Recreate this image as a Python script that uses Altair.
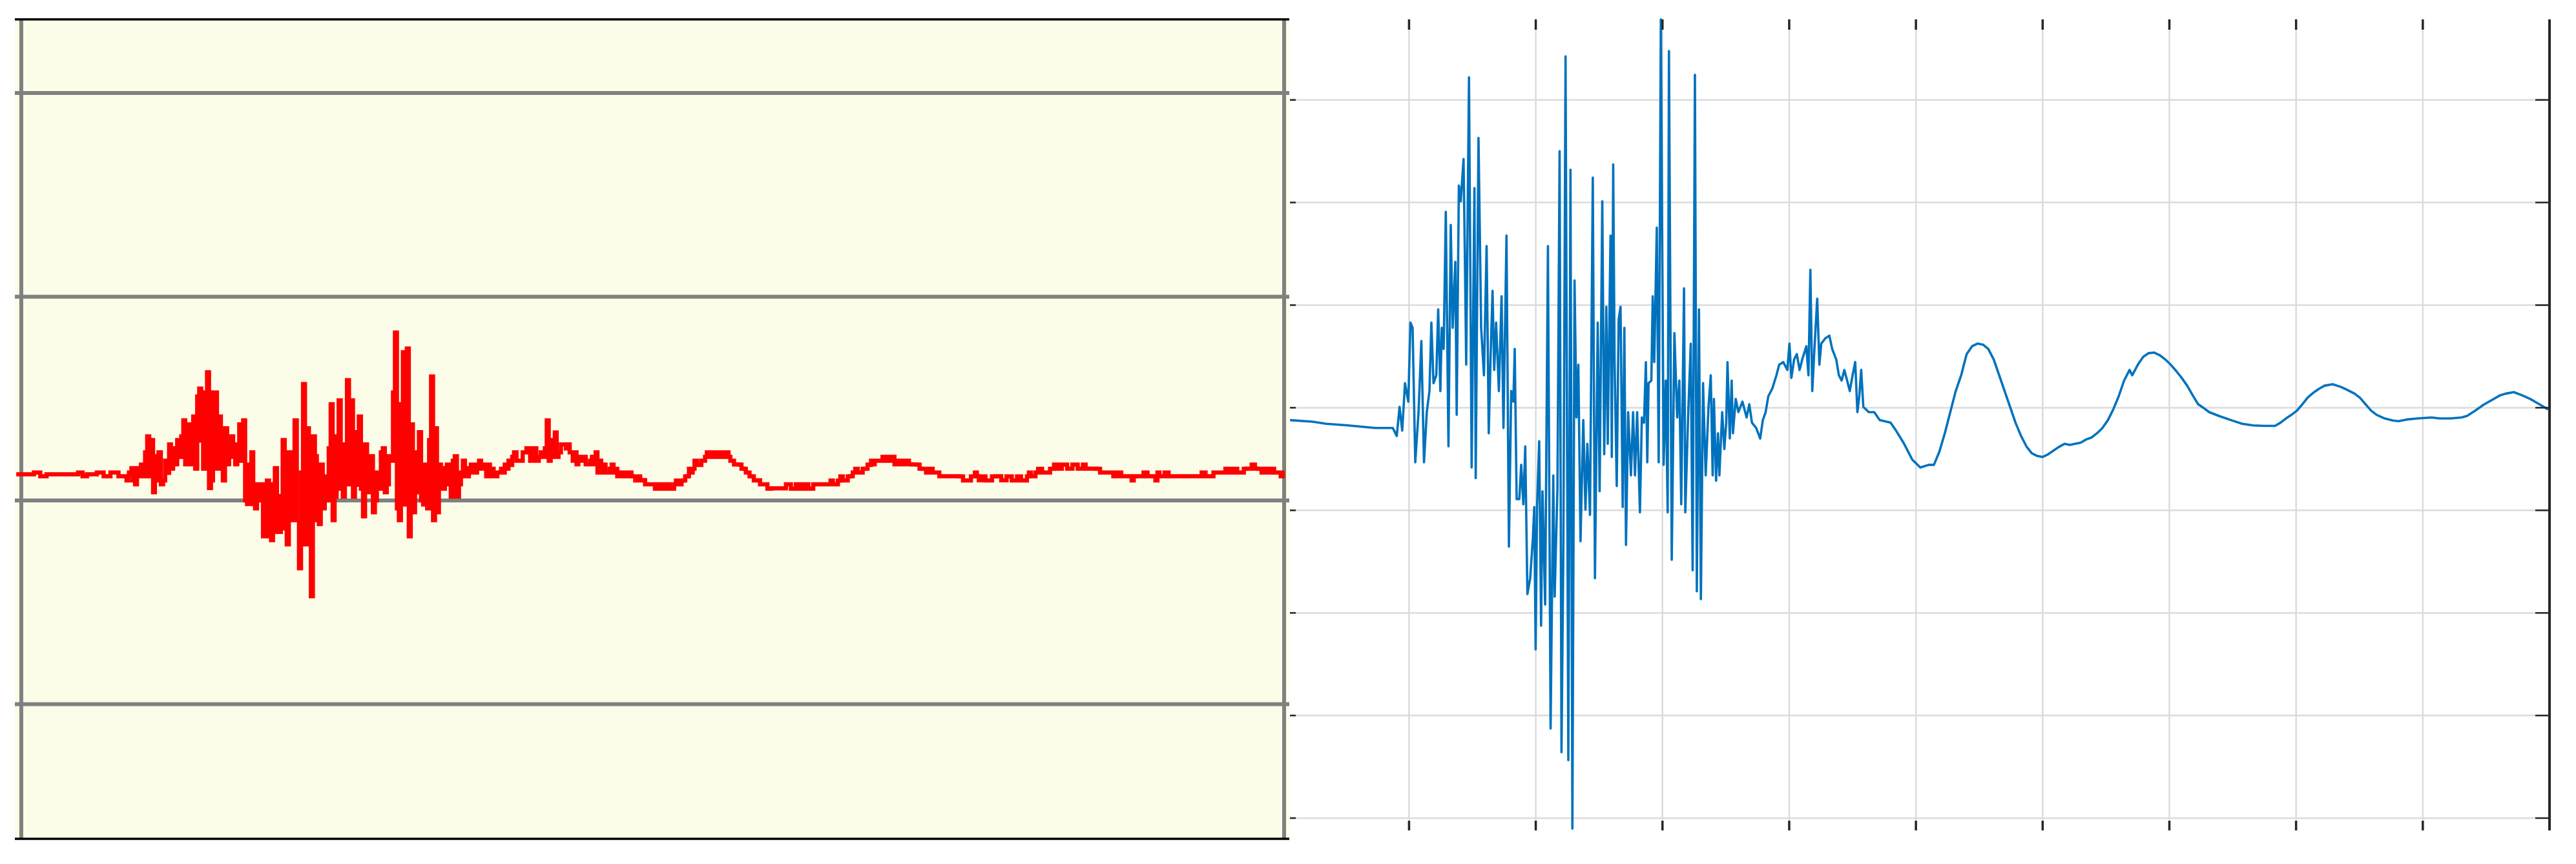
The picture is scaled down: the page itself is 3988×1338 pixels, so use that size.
import altair as alt
import pandas as pd

# ---------------- left panel (red trace) ----------------
red_x = [-0.04, 0.10, 0.20, 0.35, 0.45, 0.52,
         0.598, 0.706, 0.833, 0.872, 0.901, 0.931, 0.964, 0.997, 1.029, 1.058, 1.087, 1.123, 1.156, 1.185,
         1.219, 1.250, 1.283, 1.313, 1.346, 1.377, 1.409, 1.440, 1.471, 1.502, 1.534, 1.565, 1.596, 1.630,
         1.661, 1.694, 1.726, 1.757, 1.788, 1.822, 1.851, 1.882, 1.914, 1.945, 1.978, 2.008, 2.041, 2.070,
         2.102, 2.135, 2.164, 2.199, 2.231, 2.262, 2.293, 2.325, 2.356, 2.387, 2.419, 2.450, 2.481, 2.513,
         2.546, 2.579, 2.611, 2.642, 2.673, 2.706, 2.738, 2.769, 2.800, 2.832, 2.863, 2.894, 2.928, 2.959,
         2.990, 3.022, 3.053, 3.084, 3.118, 3.149, 3.182, 3.214, 3.245, 3.276, 3.307, 3.339, 3.370, 3.401,
         3.433, 3.466, 3.497, 3.529, 3.560, 3.593, 3.625, 3.656]
red_hi = [0.128, 0.137, 0.128, 0.128, 0.137, 0.128,
          0.137, 0.137, 0.137, 0.158, 0.158, 0.176, 0.236, 0.314, 0.296, 0.217, 0.236, 0.195, 0.275, 0.256,
          0.296, 0.314, 0.393, 0.373, 0.412, 0.510, 0.549, 0.530, 0.629, 0.530, 0.530, 0.412, 0.354, 0.314,
          0.314, 0.275, 0.373, 0.393, 0.176, 0.236, 0.079, 0.079, 0.079, 0.097, 0.079, 0.158, 0.021, 0.296,
          0.236, 0.118, 0.393, 0.137, 0.571, 0.354, 0.314, 0.217, 0.176, 0.118, 0.256, 0.472, 0.314, 0.491,
          0.275, 0.590, 0.491, 0.335, 0.412, 0.275, 0.176, 0.217, 0.137, 0.236, 0.256, 0.217, 0.530, 0.824,
          0.472, 0.727, 0.745, 0.373, 0.236, 0.335, 0.176, 0.296, 0.608, 0.354, 0.176, 0.158, 0.176, 0.195,
          0.217, 0.137, 0.195, 0.158, 0.176, 0.176, 0.195, 0.158]
red_lo = [0.128, 0.119, 0.128, 0.128, 0.119, 0.128,
          0.119, 0.119, 0.098, 0.098, 0.079, 0.119, 0.119, 0.119, 0.040, 0.098, 0.079, 0.098, 0.135, 0.156,
          0.177, 0.214, 0.177, 0.177, 0.177, 0.156, 0.294, 0.156, 0.061, 0.098, 0.156, 0.177, 0.098, 0.177,
          0.214, 0.177, 0.195, 0.000, -0.018, -0.018, -0.039, 0.000, -0.176, -0.176, -0.195, -0.155, -0.155, -0.137,
          -0.216, -0.097, -0.097, -0.333, -0.216, -0.216, -0.470, -0.097, -0.116, -0.039, 0.000, -0.097, 0.019, 0.058,
          0.019, 0.079, 0.019, 0.077, 0.058, -0.078, 0.040, -0.058, 0.000, 0.058, 0.040, 0.079, 0.195, -0.039,
          -0.097, -0.020, -0.176, -0.058, 0.040, 0.000, -0.020, -0.039, -0.097, -0.058, 0.058, 0.058, 0.079, 0.019,
          0.019, 0.079, 0.119, 0.119, 0.137, 0.137, 0.156, 0.156]

red_x2 = [3.667, 3.696, 3.726, 3.755, 3.784, 3.814, 3.843, 3.873, 3.902, 3.941, 4.000, 4.059, 4.098, 4.131,
          4.161, 4.192, 4.225, 4.254, 4.293, 4.333, 4.352, 4.382, 4.411, 4.450, 4.489, 4.519, 4.548, 4.577,
          4.607, 4.646, 4.675, 4.705, 4.734, 4.763, 4.822, 4.842, 4.881, 4.920, 4.959, 4.998, 5.037, 5.076,
          5.116, 5.155, 5.184, 5.214, 5.243, 5.272, 5.302, 5.331, 5.370, 5.400, 5.429, 5.468, 5.527, 5.586,
          5.615, 5.644, 5.683, 5.723, 5.752, 5.781, 5.820, 5.850, 5.879, 5.938, 5.997, 6.055, 6.134, 6.173,
          6.212, 6.252, 6.290, 6.369, 6.408, 6.447, 6.486, 6.525, 6.564, 6.604, 6.643, 6.682, 6.721]
red_hi2 = [0.176, 0.176, 0.155, 0.137, 0.155, 0.176, 0.195, 0.214, 0.236, 0.236, 0.256, 0.256, 0.236, 0.256,
           0.393, 0.296, 0.333, 0.275, 0.275, 0.275, 0.236, 0.236, 0.214, 0.214, 0.195, 0.214, 0.236, 0.195,
           0.176, 0.155, 0.176, 0.155, 0.137, 0.137, 0.137, 0.118, 0.118, 0.100, 0.079, 0.079, 0.079, 0.079,
           0.079, 0.079, 0.097, 0.097, 0.118, 0.155, 0.155, 0.195, 0.195, 0.214, 0.236, 0.236, 0.236, 0.236,
           0.195, 0.176, 0.176, 0.155, 0.137, 0.118, 0.100, 0.079, 0.079, 0.060, 0.060, 0.079, 0.079, 0.079,
           0.079, 0.079, 0.079, 0.079, 0.097, 0.097, 0.118, 0.118, 0.137, 0.155, 0.155, 0.176, 0.195]
red_lo2 = [0.119, 0.119, 0.119, 0.119, 0.137, 0.137, 0.156, 0.174, 0.195, 0.195, 0.195, 0.195, 0.214, 0.214,
           0.195, 0.214, 0.214, 0.236, 0.255, 0.236, 0.195, 0.177, 0.195, 0.177, 0.177, 0.177, 0.137, 0.137,
           0.137, 0.137, 0.137, 0.119, 0.119, 0.119, 0.119, 0.098, 0.098, 0.079, 0.079, 0.058, 0.058, 0.058,
           0.058, 0.058, 0.079, 0.079, 0.098, 0.119, 0.137, 0.174, 0.174, 0.195, 0.214, 0.214, 0.214, 0.214,
           0.195, 0.177, 0.156, 0.137, 0.119, 0.098, 0.098, 0.079, 0.058, 0.058, 0.058, 0.058, 0.058, 0.058,
           0.058, 0.058, 0.079, 0.079, 0.079, 0.079, 0.098, 0.098, 0.119, 0.137, 0.137, 0.156, 0.174]

red_x3 = [6.737, 6.779, 6.820, 6.883, 6.946, 7.008, 7.050, 7.092, 7.134, 7.196, 7.238, 7.301, 7.363, 7.426,
          7.489, 7.551, 7.583, 7.614, 7.656, 7.718, 7.760, 7.802, 7.885, 7.948, 7.979, 8.010, 8.052, 8.115,
          8.178, 8.240, 8.324, 8.407, 8.449, 8.511, 8.574, 8.616, 8.679, 8.741, 8.793, 8.825, 8.887, 8.950,
          8.981, 9.013, 9.054, 9.117, 9.200, 9.284, 9.347, 9.409, 9.472, 9.535, 9.597, 9.660, 9.702, 9.743,
          9.795, 9.848, 9.910, 9.931, 9.973, 10.004]
red_hi3 = [0.195, 0.195, 0.214, 0.214, 0.195, 0.195, 0.176, 0.176, 0.155, 0.155, 0.137, 0.118, 0.118, 0.118,
           0.118, 0.137, 0.100, 0.118, 0.118, 0.118, 0.100, 0.118, 0.118, 0.118, 0.137, 0.137, 0.155, 0.155,
           0.176, 0.176, 0.176, 0.176, 0.155, 0.155, 0.137, 0.137, 0.137, 0.118, 0.118, 0.118, 0.137, 0.118,
           0.137, 0.118, 0.137, 0.118, 0.118, 0.118, 0.137, 0.137, 0.137, 0.155, 0.155, 0.155, 0.155, 0.176,
           0.155, 0.155, 0.155, 0.137, 0.137, 0.137]
red_lo3 = [0.177, 0.195, 0.195, 0.177, 0.177, 0.177, 0.177, 0.156, 0.137, 0.137, 0.119, 0.119, 0.119, 0.098,
           0.098, 0.119, 0.098, 0.098, 0.098, 0.119, 0.098, 0.098, 0.098, 0.098, 0.119, 0.119, 0.137, 0.137,
           0.156, 0.156, 0.156, 0.156, 0.156, 0.137, 0.137, 0.119, 0.119, 0.119, 0.098, 0.119, 0.119, 0.119,
           0.098, 0.119, 0.119, 0.119, 0.119, 0.119, 0.119, 0.119, 0.137, 0.137, 0.137, 0.137, 0.156, 0.156,
           0.137, 0.137, 0.137, 0.137, 0.119, 0.137]

left_grid_y = [-1, 0, 1, 2]
left_grid_x = [0, 10]
left_edges_y = [-1.661, 2.361]

# ---------------- right panel (blue trace) ----------------
blue_x_pre = [0.061, 0.237, 0.345, 0.517, 0.731, 0.871, 0.903, 0.925, 0.946, 0.968, 0.994]
blue_y_pre = [3.879, 3.864, 3.844, 3.828, 3.803, 3.803, 3.725, 4.008, 3.777, 4.239, 4.059]

blue_x_burst = [1.011, 1.028, 1.049, 1.075, 1.097, 1.118, 1.140, 1.161, 1.176, 1.193, 1.215, 1.230, 1.247,
                1.258, 1.273, 1.290, 1.311, 1.329, 1.344, 1.365, 1.376, 1.393, 1.408, 1.430, 1.440, 1.451,
                1.473, 1.494, 1.516, 1.526, 1.548, 1.569, 1.591, 1.612, 1.629, 1.644, 1.659, 1.672, 1.687,
                1.709, 1.730, 1.745, 1.769, 1.788, 1.806, 1.823, 1.834, 1.849, 1.870, 1.885, 1.902, 1.917,
                1.934, 1.956, 1.977, 1.988, 1.999, 2.010, 2.027, 2.042, 2.053, 2.074, 2.096, 2.117, 2.138,
                2.149, 2.171, 2.188, 2.203, 2.218, 2.235, 2.257, 2.274, 2.289, 2.306, 2.321, 2.336, 2.353,
                2.375, 2.392, 2.407, 2.428, 2.450, 2.467, 2.489, 2.504, 2.525, 2.540, 2.557, 2.568, 2.590,
                2.600, 2.611, 2.622, 2.639, 2.654, 2.669, 2.686, 2.699, 2.712, 2.729, 2.751, 2.768, 2.783,
                2.800, 2.822, 2.837, 2.854, 2.869, 2.880, 2.890, 2.912, 2.923, 2.935, 2.955, 2.970, 2.987,
                3.009, 3.026, 3.041, 3.051, 3.073, 3.094, 3.116, 3.133, 3.148, 3.170, 3.180, 3.202, 3.223,
                3.238, 3.256, 3.271, 3.288, 3.303, 3.320, 3.341, 3.363]
blue_y_burst = [4.830, 4.779, 3.468, 3.957, 4.650, 3.468, 3.957, 4.162, 4.830, 4.239, 4.316, 4.959, 4.162,
                4.779, 4.573, 5.909, 3.623, 5.781, 4.779, 5.421, 3.931, 6.166, 6.012, 6.423, 5.524, 4.419,
                7.220, 3.417, 6.141, 3.314, 6.629, 4.779, 4.316, 5.575, 3.751, 4.522, 5.139, 4.368, 4.830,
                4.162, 5.087, 3.803, 5.678, 2.646, 4.162, 4.059, 4.573, 3.109, 3.109, 3.443, 3.058, 3.623,
                2.184, 2.338, 2.724, 3.032, 1.644, 3.032, 3.674, 1.876, 3.186, 2.081, 5.575, 0.873, 3.340,
                2.158, 3.211, 6.500, 0.642, 2.672, 7.425, 0.565, 6.320, -0.103, 5.241, 3.905, 4.419, 2.698,
                3.879, 3.006, 3.648, 2.955, 6.243, 2.338, 4.830, 3.186, 6.012, 3.546, 4.984, 3.648, 5.678,
                3.520, 6.372, 4.445, 3.237, 4.856, 4.984, 3.032, 4.779, 2.662, 3.957, 3.340, 3.957, 3.340,
                3.957, 2.980, 3.905, 3.854, 4.445, 3.468, 4.239, 4.265, 5.087, 4.445, 5.755, 3.468, 7.785,
                3.443, 4.265, 2.980, 7.477, 2.518, 4.727, 3.905, 4.265, 3.058, 5.164, 2.980, 3.905, 4.624,
                2.415, 7.245, 2.210, 4.959, 2.133, 4.239, 3.340, 4.008]

blue_x_tail = [3.381, 3.396, 3.406, 3.423, 3.438, 3.449, 3.471, 3.488, 3.503, 3.513, 3.531, 3.546, 3.556,
               3.578, 3.599, 3.631, 3.664, 3.685, 3.706, 3.739, 3.771, 3.792, 3.814, 3.835, 3.867, 3.899,
               3.921, 3.953, 3.985, 4.002, 4.017, 4.039, 4.060, 4.082, 4.103, 4.135, 4.152, 4.167, 4.182,
               4.199, 4.221, 4.238, 4.253, 4.285, 4.317, 4.339, 4.371, 4.392, 4.414, 4.435, 4.457, 4.478,
               4.500, 4.521, 4.538, 4.553, 4.568, 4.585, 4.628, 4.671, 4.714]
blue_y_tail = [4.316, 3.340, 4.085, 3.289, 3.751, 3.340, 3.957, 3.597, 3.854, 4.445, 3.700, 4.265, 3.751,
               4.085, 3.957, 4.059, 3.905, 4.034, 3.854, 3.803, 3.700, 3.879, 3.957, 4.111, 4.188, 4.316,
               4.419, 4.445, 4.368, 4.625, 4.291, 4.471, 4.522, 4.368, 4.471, 4.599, 4.316, 5.344, 4.162,
               4.573, 5.062, 4.419, 4.625, 4.676, 4.702, 4.573, 4.471, 4.316, 4.265, 4.368, 4.265, 4.162,
               4.316, 4.445, 3.957, 4.111, 4.368, 4.008, 3.957, 3.957, 3.879]

blue_x_coda = [4.800, 4.843, 4.907, 4.971, 5.035, 5.100, 5.142, 5.185, 5.228, 5.271, 5.314, 5.357, 5.400,
               5.443, 5.486, 5.529, 5.571, 5.614, 5.657, 5.700, 5.743, 5.786, 5.829, 5.872, 5.914, 5.957,
               6.000, 6.043, 6.086, 6.129, 6.172, 6.215, 6.257, 6.300, 6.343, 6.386, 6.429, 6.472, 6.515,
               6.557, 6.600, 6.643, 6.686, 6.707, 6.751, 6.794, 6.837, 6.881, 6.924, 6.967, 7.011, 7.054,
               7.097, 7.141, 7.184, 7.227, 7.270, 7.314, 7.400, 7.487, 7.574, 7.660, 7.747, 7.834, 7.877,
               7.920, 7.964, 8.007, 8.050, 8.093, 8.137, 8.180, 8.223, 8.288, 8.353, 8.397, 8.462, 8.505,
               8.548, 8.592, 8.635, 8.700, 8.765, 8.808, 8.873, 8.960, 9.068, 9.133, 9.220, 9.306, 9.350,
               9.415, 9.480, 9.545, 9.610, 9.653, 9.718, 9.783, 9.848, 9.913, 9.989]
blue_y_coda = [3.854, 3.777, 3.648, 3.494, 3.417, 3.443, 3.443, 3.571, 3.751, 3.957, 4.162, 4.316, 4.522,
               4.599, 4.625, 4.615, 4.573, 4.471, 4.316, 4.162, 4.008, 3.854, 3.726, 3.623, 3.556, 3.530,
               3.520, 3.546, 3.582, 3.618, 3.648, 3.638, 3.648, 3.659, 3.690, 3.710, 3.751, 3.803, 3.879,
               3.983, 4.111, 4.265, 4.368, 4.316, 4.419, 4.496, 4.532, 4.537, 4.512, 4.471, 4.419, 4.358,
               4.291, 4.214, 4.121, 4.034, 3.998, 3.957, 3.916, 3.879, 3.844, 3.828, 3.823, 3.823, 3.854,
               3.895, 3.931, 3.972, 4.034, 4.101, 4.147, 4.183, 4.214, 4.229, 4.203, 4.178, 4.137, 4.096,
               4.034, 3.972, 3.931, 3.895, 3.875, 3.869, 3.885, 3.895, 3.905, 3.895, 3.895, 3.905, 3.921,
               3.972, 4.029, 4.075, 4.121, 4.137, 4.152, 4.121, 4.085, 4.039, 3.983]

right_ticks_x = [1, 2, 3, 4, 5, 6, 7, 8, 9, 10]
right_grid_x = [1, 2, 3, 4, 5, 6, 7, 8, 9]
right_ticks_y = [0, 1, 2, 3, 4, 5, 6, 7]

# ---------------- build tables ----------------
def step_table(xs, his, los):
    rows = []
    n = len(xs)
    for i in range(n):
        x0 = xs[i]
        x1 = xs[i + 1] if i + 1 < n else x0
        hi, lo = his[i], los[i]
        if abs(hi - lo) < 0.005 or x1 == x0:
            rows.append((x0, (hi + lo) / 2))
            continue
        nxt = (his[i + 1] + los[i + 1]) / 2 if i + 1 < n else (hi + lo) / 2
        first, second = (lo, hi) if nxt > (hi + lo) / 2 else (hi, lo)
        rows.append((x0, first))
        rows.append(((x0 + x1) / 2, second))
    return rows

rx = red_x + red_x2 + red_x3
rh = red_hi + red_hi2 + red_hi3
rl = red_lo + red_lo2 + red_lo3
red_df = pd.DataFrame(step_table(rx, rh, rl), columns=["t", "v"])
red_df["o"] = range(len(red_df))

blue_df = pd.DataFrame({
    "t": blue_x_pre + blue_x_burst + blue_x_tail + blue_x_coda,
    "v": blue_y_pre + blue_y_burst + blue_y_tail + blue_y_coda,
})
blue_df["o"] = range(len(blue_df))

LW, LH = 1973, 1269
RW, RH = 1950, 1256

LX = alt.Scale(domain=[-0.051, 10.041], nice=False, zero=False)
LY = alt.Scale(domain=[-1.661, 2.361], nice=False, zero=False)
RX = alt.Scale(domain=[0.06, 10.0], nice=False, zero=False)
RY = alt.Scale(domain=[-0.12, 7.785], nice=False, zero=False)

# left panel layers
l_hgrid = alt.Chart(pd.DataFrame({"g": left_grid_y})).mark_rule(
    color="#808080", strokeWidth=6).encode(y=alt.Y("g:Q", scale=LY, axis=None))
l_vgrid = alt.Chart(pd.DataFrame({"g": left_grid_x})).mark_rule(
    color="#808080", strokeWidth=6).encode(x=alt.X("g:Q", scale=LX, axis=None))
l_edges = alt.Chart(pd.DataFrame({"b": left_edges_y})).mark_rule(
    color="#000000", strokeWidth=3.5).encode(y=alt.Y("b:Q", scale=LY, axis=None))
l_red = alt.Chart(red_df).mark_line(
    color="#ff0000", strokeWidth=6.5, interpolate="step-after", strokeJoin="miter").encode(
    x=alt.X("t:Q", scale=LX, axis=None),
    y=alt.Y("v:Q", scale=LY, axis=None),
    order="o:Q")

left = alt.layer(l_hgrid, l_vgrid, l_red, l_edges).properties(
    width=LW, height=LH,
    view=alt.ViewBackground(fill="#fbfde8", strokeWidth=0))

# right panel layers
grid_col = "#dbdbdb"
tick_col = "#262626"
r_vgrid = alt.Chart(pd.DataFrame({"g": right_grid_x})).mark_rule(
    color=grid_col, strokeWidth=2.5).encode(x=alt.X("g:Q", scale=RX, axis=None))
r_hgrid = alt.Chart(pd.DataFrame({"g": right_ticks_y})).mark_rule(
    color=grid_col, strokeWidth=2.5).encode(y=alt.Y("g:Q", scale=RY, axis=None))
r_blue = alt.Chart(blue_df).mark_line(color="#0072bd", strokeWidth=3.6, strokeJoin="round").encode(
    x=alt.X("t:Q", scale=RX, axis=None),
    y=alt.Y("v:Q", scale=RY, axis=None),
    order="o:Q")
tx = pd.DataFrame({"t": right_ticks_x})
ty = pd.DataFrame({"v": right_ticks_y})
r_ttop = alt.Chart(tx).mark_rule(color=tick_col, strokeWidth=3.5).encode(
    x=alt.X("t:Q", scale=RX, axis=None), y=alt.value(0), y2=alt.value(16))
r_tbot = alt.Chart(tx).mark_rule(color=tick_col, strokeWidth=3.5).encode(
    x=alt.X("t:Q", scale=RX, axis=None), y=alt.value(RH - 15), y2=alt.value(RH))
r_tleft = alt.Chart(ty).mark_rule(color=tick_col, strokeWidth=2.5).encode(
    y=alt.Y("v:Q", scale=RY, axis=None), x=alt.value(0), x2=alt.value(9))
r_tright = alt.Chart(ty).mark_rule(color=tick_col, strokeWidth=2.5).encode(
    y=alt.Y("v:Q", scale=RY, axis=None), x=alt.value(RW - 22), x2=alt.value(RW))
r_edge = alt.Chart(pd.DataFrame({"e": [10.0]})).mark_rule(
    color=tick_col, strokeWidth=4).encode(x=alt.X("e:Q", scale=RX, axis=None))

right = alt.layer(r_vgrid, r_hgrid, r_blue, r_ttop, r_tbot, r_tleft, r_tright, r_edge).properties(
    width=RW, height=RH,
    view=alt.ViewBackground(fill="#ffffff", strokeWidth=0))

# autosize "pad" adds the stroke overflow of the edge marks (about 10px left, 6px top)
chart = alt.hconcat(left, right, spacing=1, bounds="flush").properties(
    padding={"left": 4, "top": 19, "right": 0, "bottom": 0},
    background="#ffffff",
).configure_view(strokeWidth=0)

chart.save("out.html", embed_options={"renderer": "svg", "actions": False})
